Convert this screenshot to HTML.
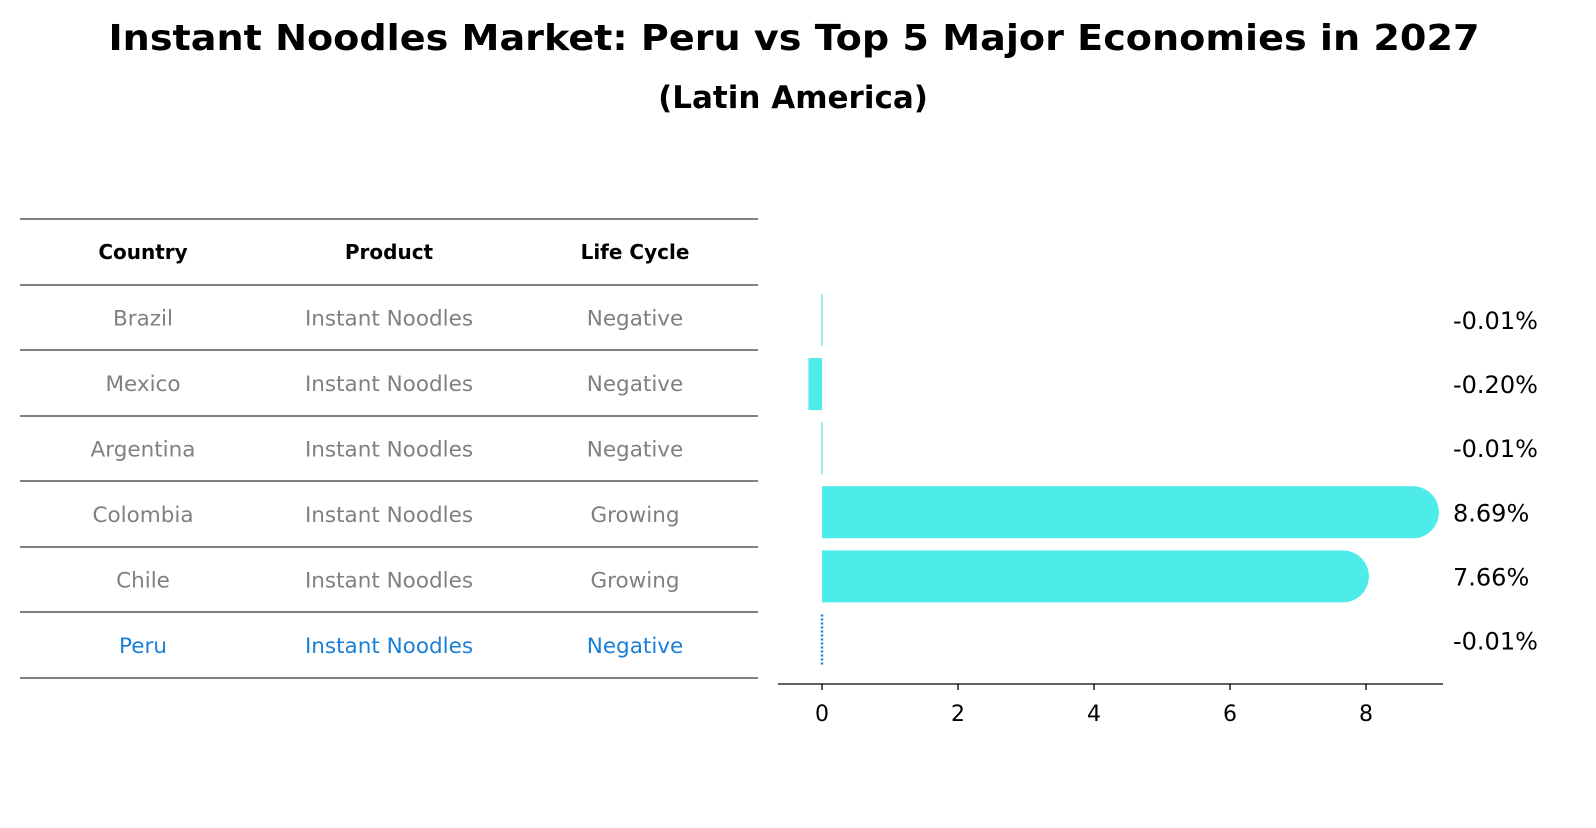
<!DOCTYPE html>
<html><head><meta charset="utf-8"><style>
body{margin:0;width:1596px;height:823px;background:#fff;font-family:"Liberation Sans","DejaVu Sans",sans-serif;overflow:hidden}
</style></head><body>
<svg width="1596" height="823" xmlns="http://www.w3.org/2000/svg" font-family="DejaVu Sans, Liberation Sans, sans-serif">
<text x="794" y="50" text-anchor="middle" font-size="36" font-weight="bold" textLength="1371" lengthAdjust="spacingAndGlyphs">Instant Noodles Market: Peru vs Top 5 Major Economies in 2027</text>
<text x="793" y="108" text-anchor="middle" font-size="31" font-weight="bold">(Latin America)</text>
<g id="table"></g>
<g id="chart"></g>
</svg>
<script>
const countries=["Brazil","Mexico","Argentina","Colombia","Chile","Peru"];
const products=["Instant Noodles","Instant Noodles","Instant Noodles","Instant Noodles","Instant Noodles","Instant Noodles"];
const lifecycle=["Negative","Negative","Negative","Growing","Growing","Negative"];
const values=[-0.01,-0.20,-0.01,8.69,7.66,-0.01];
const labels=["-0.01%","-0.20%","-0.01%","8.69%","7.66%","-0.01%"];
const ticks=[0,2,4,6,8];
const NS="http://www.w3.org/2000/svg";
function mk(p,t,a){const e=document.createElementNS(NS,t);for(const k in a)e.setAttribute(k,a[k]);p.appendChild(e);return e;}
const tb=document.getElementById('table');
const rowY=[219,285,350,416,481,547,612,678];
rowY.forEach((y,i)=>{const l=mk(tb,'line',{x1:20,x2:758,y1:y,y2:y,stroke:'#000','stroke-width':1});

});
const cx=[143,389,635];
["Country","Product","Life Cycle"].forEach((h,j)=>{const t=mk(tb,'text',{x:cx[j],y:259,'text-anchor':'middle','font-size':20,'font-weight':'bold'});t.textContent=h;

});
countries.forEach((c,i)=>{const y=(rowY[i+1]+rowY[i+2])/2+8;const col=c==="Peru"?'#1a7fd8':'#808080';
[c,products[i],lifecycle[i]].forEach((v,j)=>{const t=mk(tb,'text',{x:cx[j],y:y,'text-anchor':'middle','font-size':21.5,fill:col});t.textContent=v;

});});
const ch=document.getElementById('chart');
const x=v=>822+v*68;
const yc=i=>320+i*64.1;
const h=52;
values.forEach((v,i)=>{
 const y=yc(i);
 if(countries[i]==="Peru"){
  const l=mk(ch,'line',{x1:x(0),x2:x(0),y1:y-26,y2:y+26,stroke:'#1a7fd8','stroke-width':2.5,'stroke-dasharray':'2 2'});
  
  
 } else if(v>0.5){
  const x0=x(0),x1=x(v),r=h/2;
  const p=mk(ch,'path',{d:`M${x0},${y-r}H${x1}A${r},${r} 0 0 1 ${x1},${y+r}H${x0}Z`,fill:'#4deceb'});
  
  
 } else {
  const a=Math.min(x(v),x(0)),w=Math.max(Math.abs(x(v)-x(0)),1.2);
  const r=mk(ch,'rect',{x:a,y:y-h/2,width:w,height:h,fill:'#4deceb'});
  
  
 }
 const t=mk(ch,'text',{x:1453,y:y+9,'font-size':24});t.textContent=labels[i];
 
 
});
const ax=mk(ch,'line',{x1:778,x2:1443,y1:684,y2:684,stroke:'#000','stroke-width':1.3});


ticks.forEach(v=>{const l=mk(ch,'line',{x1:x(v),x2:x(v),y1:684,y2:690,stroke:'#000','stroke-width':1.3});


const t=mk(ch,'text',{x:x(v),y:721,'text-anchor':'middle','font-size':22});t.textContent=v;

});
</script>
</body></html>
